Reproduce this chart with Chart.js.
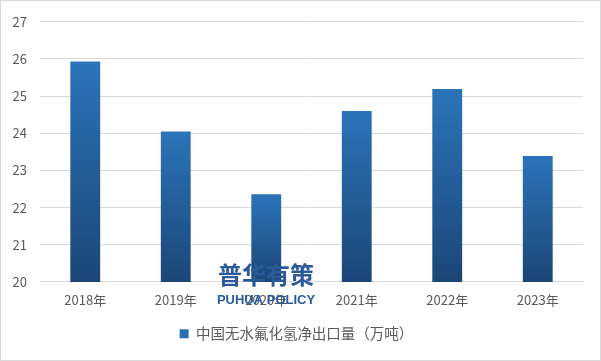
<!DOCTYPE html>
<html><head><meta charset="utf-8">
<script src="https://cdn.jsdelivr.net/npm/chart.js@4/dist/chart.umd.min.js"></script>
<style>
html,body{margin:0;padding:0;background:#fff;}
#wrap{position:relative;width:599px;height:359px;border:1px solid #d9d9d9;}
</style></head><body>
<div id="wrap"><canvas id="c" width="599" height="359"></canvas></div>
<script>
const categories = ["2018年","2019年","2020年","2021年","2022年","2023年"];
const netExports = [25.93, 24.05, 22.36, 24.60, 25.19, 23.39];
const seriesName = "中国无水氟化氢净出口量（万吨）";
const yTicks = [20,21,22,23,24,25,26,27];

const FONT = '"Noto Sans CJK SC","Noto Sans",sans-serif';

function barGradient(ctx){
  const chart = ctx.chart;
  const ys = chart.scales.y;
  if(!ys || ctx.type !== 'data') return '#2a6fb3';
  const v = ctx.parsed ? ctx.parsed.y : ctx.raw;
  const top = ys.getPixelForValue(v);
  const base = ys.getPixelForValue(yTicks[0]);
  if(!isFinite(top) || !isFinite(base) || top === base) return '#2a6fb3';
  const g = chart.ctx.createLinearGradient(0, top, 0, base);
  g.addColorStop(0, '#2b74b9');
  g.addColorStop(1, '#1b4677');
  return g;
}

const watermark = {
  id:'watermark',
  afterDraw(chart){
    const c = chart.ctx;
    c.save();
    c.fillStyle = '#2a5a9a';
    c.textAlign = 'center';
    c.textBaseline = 'alphabetic';
    c.font = 'bold 24px ' + FONT;
    c.fillText('普华有策', 265, 283);
    c.font = 'bold 13px "Liberation Sans Narrow","Liberation Sans",Arial,sans-serif';
    c.fillText('PUHUA POLICY', 265, 303);
    c.restore();
  }
};

new Chart(document.getElementById('c'), {
  type:'bar',
  data:{
    labels:categories,
    datasets:[{
      label:seriesName,
      data:netExports,
      backgroundColor:barGradient,
      borderWidth:0,
      categoryPercentage:0.66,
      barPercentage:0.5
    }]
  },
  options:{
    responsive:false,
    animation:false,
    layout:{padding:{left:9,right:17,top:1,bottom:9}},
    plugins:{
      legend:{
        position:'bottom',
        labels:{
          font:{family:FONT,size:14.5},
          color:'#595959',
          boxWidth:9,boxHeight:9,
          padding:17,
          generateLabels(chart){
            return [{text:seriesName,fillStyle:'#2a6fb3',strokeStyle:'#2a6fb3',lineWidth:0,datasetIndex:0,fontColor:'#595959'}];
          }
        }
      },
      tooltip:{enabled:false}
    },
    scales:{
      x:{
        grid:{display:false},
        border:{display:true,color:'#d9d9d9'},
        ticks:{font:{family:FONT,size:13},color:'#595959',padding:2}
      },
      y:{
        min:20,max:27,
        afterBuildTicks(s){ s.ticks = yTicks.map(v=>({value:v})); },
        afterFit(s){ s.width = 30; },
        grid:{color:'#d9d9d9',drawTicks:false},
        border:{display:false},
        ticks:{font:{family:FONT,size:13},color:'#595959',padding:13}
      }
    }
  },
  plugins:[watermark]
});
</script>
</body></html>
